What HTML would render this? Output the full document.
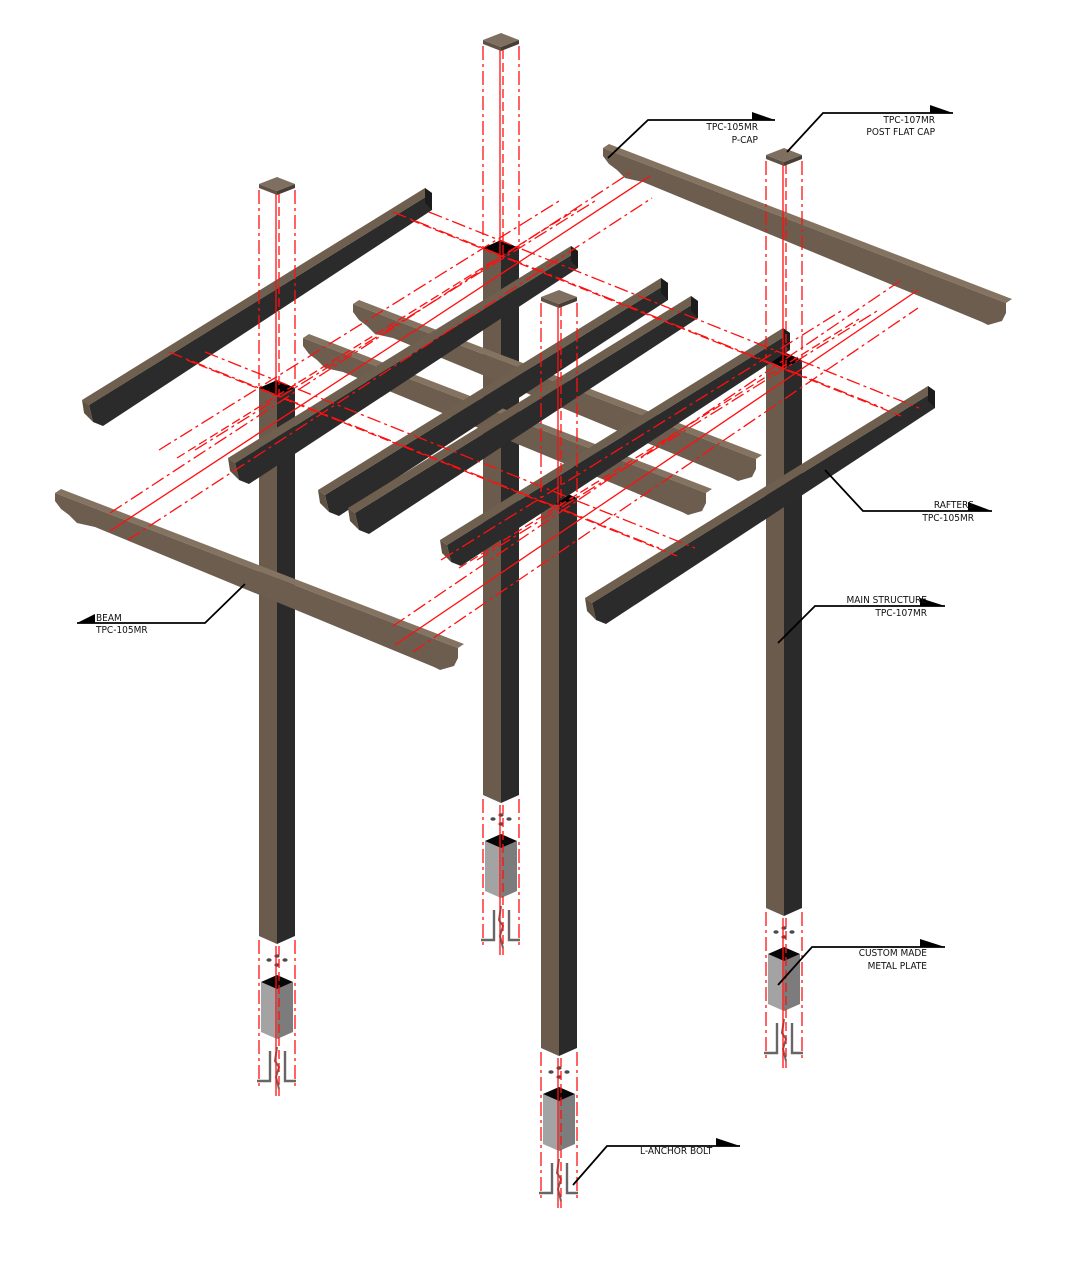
<!DOCTYPE html>
<html><head><meta charset="utf-8"><style>
html,body{margin:0;padding:0;background:#fff;}
svg{display:block;}
text{font-family:"DejaVu Sans Condensed","Liberation Sans",sans-serif;font-size:10px;fill:#111;}
</style></head><body>
<svg id="s" width="1080" height="1271" viewBox="0 0 1080 1271" xmlns="http://www.w3.org/2000/svg">
<g id="shapes"></g>
<g id="red" fill="none" stroke="#ff1010" stroke-width="1.3"></g>
<g id="labels" stroke="#000" stroke-width="1.8" fill="none">
<polyline points="608,158 648,120 775,120"/><polygon points="752,120 775,120 752,112" fill="#000" stroke="none"/>
<polyline points="787,152 823,113 953,113"/><polygon points="930,113 953,113 930,105" fill="#000" stroke="none"/>
<polyline points="825,470 863,511 992,511"/><polygon points="968,511 992,511 968,502" fill="#000" stroke="none"/>
<polyline points="778,643 815,606 945,606"/><polygon points="920,606 945,606 920,598" fill="#000" stroke="none"/>
<polyline points="778,985 812,947 945,947"/><polygon points="920,947 945,947 920,939" fill="#000" stroke="none"/>
<polyline points="573,1185 607,1146 740,1146"/><polygon points="716,1146 740,1146 716,1138" fill="#000" stroke="none"/>
<polyline points="245,584 205,623 77,623"/><polygon points="77,623 95,614 95,623" fill="#000" stroke="none"/>
</g>
<g>
<text x="758" y="130" text-anchor="end">TPC-105MR</text>
<text x="758" y="143" text-anchor="end">P-CAP</text>
<text x="935" y="123" text-anchor="end">TPC-107MR</text>
<text x="935" y="135" text-anchor="end">POST FLAT CAP</text>
<text x="974" y="508" text-anchor="end">RAFTERS</text>
<text x="974" y="521" text-anchor="end">TPC-105MR</text>
<text x="927" y="603" text-anchor="end">MAIN STRUCTURE</text>
<text x="927" y="616" text-anchor="end">TPC-107MR</text>
<text x="927" y="956" text-anchor="end">CUSTOM MADE</text>
<text x="927" y="969" text-anchor="end">METAL PLATE</text>
<text x="640" y="1154">L-ANCHOR BOLT</text>
<text x="96" y="621">BEAM</text>
<text x="96" y="633">TPC-105MR</text>
</g>
</svg>
<script>
(function(){
var NS="http://www.w3.org/2000/svg";
var G=document.getElementById("shapes"),R=document.getElementById("red");
function poly(g,pts,fill){var p=document.createElementNS(NS,"polygon");p.setAttribute("points",pts.map(function(a){return a[0].toFixed(1)+","+a[1].toFixed(1)}).join(" "));p.setAttribute("fill",fill);g.appendChild(p);return p;}
function line(x1,y1,x2,y2,dash){var l=document.createElementNS(NS,"line");l.setAttribute("x1",x1);l.setAttribute("y1",y1);l.setAttribute("x2",x2);l.setAttribute("y2",y2);if(dash)l.setAttribute("stroke-dasharray",dash);R.appendChild(l);}
function path(d,stroke,w){var p=document.createElementNS(NS,"path");p.setAttribute("d",d);p.setAttribute("stroke",stroke);p.setAttribute("stroke-width",w);p.setAttribute("fill","none");G.appendChild(p);}
function ell(cx,cy){var e=document.createElementNS(NS,"ellipse");e.setAttribute("cx",cx);e.setAttribute("cy",cy);e.setAttribute("rx",2.6);e.setAttribute("ry",1.8);e.setAttribute("fill","#4a4a50");G.appendChild(e);}
var DD="14 4 3 4";
var posts=[[259,184,388,936],[483,40,248,795],[541,297,498,1048],[766,155,360,908]];
posts.forEach(function(p){
 var x=p[0],t=p[2],b=p[3];
 poly(G,[[x,t],[x+18,t+8],[x+18,b+8],[x,b]],"#6a5b4c");
 poly(G,[[x+18,t+8],[x+36,t],[x+36,b],[x+18,b+8]],"#2a2a2a");
 poly(G,[[x,t],[x+18,t-8],[x+36,t],[x+18,t+8]],"#050505");
 var cx=x+18,cy=p[1];
 poly(G,[[cx-18,cy],[cx,cy+7],[cx,cy+11],[cx-18,cy+4]],"#5e5145");
 poly(G,[[cx,cy+7],[cx+18,cy],[cx+18,cy+4],[cx,cy+11]],"#463d35");
 poly(G,[[cx-18,cy],[cx,cy-7],[cx+18,cy],[cx,cy+7]],"#7f6f60");
 ell(cx-8,b+24);ell(cx+8,b+24);ell(cx,b+20);ell(cx,b+29);
 var bt=b+46;
 poly(G,[[x+2,bt],[x+18,bt+7],[x+18,bt+57],[x+2,bt+50]],"#a3a3a3");
 poly(G,[[x+18,bt+7],[x+34,bt],[x+34,bt+50],[x+18,bt+57]],"#7c7c7c");
 poly(G,[[x+2,bt],[x+18,bt-7],[x+34,bt],[x+18,bt+7]],"#070707");
 var y0=b+115;
 path("M"+(x+11)+","+y0+" v30 h-13","#666",2.4);
 path("M"+(x+26)+","+y0+" v30 h11","#666",2.4);
 path("M"+(x+18)+","+(y0-4)+" l-2,14 l4,6 l-3,10 l3,12","#666",2);
 line(x,cy+6,x,t,DD);line(x+17,cy+10,x+17,t+8,"");line(x+20,cy+10,x+20,t+8,"9 4");line(x+36,cy+6,x+36,t,DD);
 line(x,b+4,x,b+150,DD);line(x+17,b+10,x+17,b+160,"");line(x+20,b+10,x+20,b+160,"9 4");line(x+36,b+4,x+36,b+150,DD);
});
var d2=[403,155];
[[603,148],[353,304],[303,338],[55,493]].forEach(function(T){
 var x=T[0],y=T[1],ex=x+d2[0],ey=y+d2[1];
 poly(G,[[x,y],[x+6,y-4],[ex+6,ey-4],[ex,ey]],"#847361");
 poly(G,[[x,y],[ex,ey],[ex,ey+10],[ex-4,ey+18],[ex-18,ey+22],[ex-24,ey+19],[x+40,y+34],[x+22,y+30],[x+14,y+22],[x+6,y+16],[x,y+8]],"#6c5d4e");
});
var d=[343,-212];
[[82,400],[228,458],[318,490],[348,508],[440,540],[585,598]].forEach(function(P){
 var x=P[0],y=P[1],ex=x+d[0],ey=y+d[1],w=[7,5],h=17;
 poly(G,[[x+w[0],y+w[1]],[ex+w[0],ey+w[1]],[ex+w[0],ey+w[1]+h],[x+w[0]+14,y+w[1]+h+4],[x+w[0]+4,y+w[1]+h]],"#2b2b2b");
 poly(G,[[x,y],[ex,ey],[ex+w[0],ey+w[1]],[x+w[0],y+w[1]]],"#6e5f4f");
 poly(G,[[x,y],[x+w[0],y+w[1]],[x+w[0]+4,y+w[1]+h],[x+2,y+w[1]+8]],"#5f5142");
 poly(G,[[ex,ey],[ex+w[0],ey+w[1]],[ex+w[0],ey+w[1]+h],[ex,ey+h-2]],"#1c1c1c");
});
line(110,513,633,171,DD);line(110,531,650,176,"");line(128,540,652,198,DD);
line(393,626,900,281,DD);line(395,645,918,290,"");line(413,652,918,308,DD);
[[259,388],[277,396],[295,388],[483,248],[501,256],[519,248]].forEach(function(p,i){
 var x1=p[0]-90,y1=p[1]-36,x2=p[0]+400,y2=p[1]+160;
 line(x1,y1,x2,y2,i%3==1?"9 4":DD);
});
[[259,388],[277,396],[295,388],[541,498],[559,506],[577,498]].forEach(function(p,i){
 var x1=p[0]-100,y1=p[1]+62,x2=p[0]+300,y2=p[1]-187;
 line(x1,y1,x2,y2,i%3==1?"9 4":DD);
});
})();
</script>
</body></html>
